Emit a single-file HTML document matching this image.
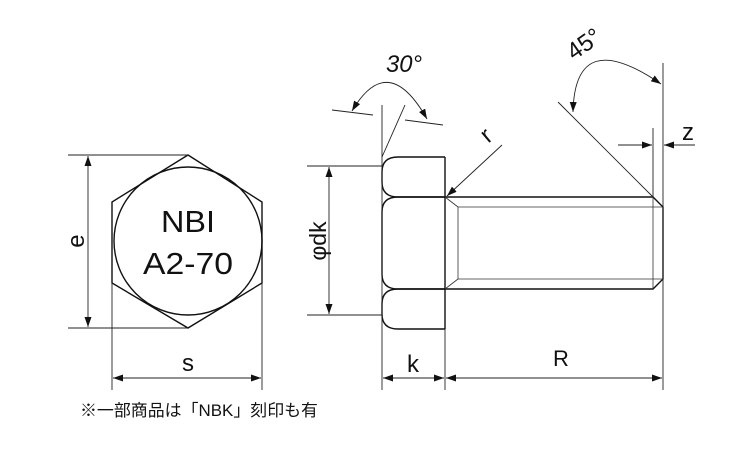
<!DOCTYPE html>
<html><head><style>
html,body{margin:0;padding:0;background:#fff;}
svg{display:block;}
text{font-family:"Liberation Sans","Noto Sans CJK JP",sans-serif;fill:#111;}
</style></head><body>
<svg width="750" height="450" viewBox="0 0 750 450" xmlns="http://www.w3.org/2000/svg">
<defs>
<marker id="a" viewBox="0 0 10 10" refX="10" refY="5" markerWidth="10" markerHeight="10" markerUnits="userSpaceOnUse" orient="auto-start-reverse">
<path d="M0,1.5 L10,5 L0,8.5 z" fill="#111"/></marker>
</defs>
<g fill="none" stroke="#111" stroke-width="1.4">
<polygon points="188,155 262,202 262,283 188,328 112,283 112,202"/>
<circle cx="188" cy="241" r="74"/>
</g>
<g fill="none" stroke="#222" stroke-width="0.9">
<line x1="68" y1="155" x2="188" y2="155"/>
<line x1="68" y1="328" x2="188" y2="328"/>
<line x1="88" y1="156" x2="88" y2="327" marker-start="url(#a)" marker-end="url(#a)"/>
<line x1="112" y1="283" x2="112" y2="390"/>
<line x1="262" y1="283" x2="262" y2="390"/>
<line x1="113" y1="378" x2="261" y2="378" marker-start="url(#a)" marker-end="url(#a)"/>
</g>
<text x="188" y="232" font-size="31" text-anchor="middle" textLength="54" lengthAdjust="spacingAndGlyphs">NBI</text>
<text x="188" y="274" font-size="31" text-anchor="middle" textLength="90" lengthAdjust="spacingAndGlyphs">A2-70</text>
<text x="76" y="241" font-size="24" text-anchor="middle" transform="rotate(-90 76 241)" dy="8">e</text>
<text x="188" y="371" font-size="24" text-anchor="middle">s</text>
<text x="80" y="416" font-size="16.5" textLength="238" lengthAdjust="spacingAndGlyphs">※一部商品は「NBK」刻印も有</text>

<g fill="none" stroke="#111" stroke-width="1.4">
<path d="M445,157 L398,157 Q382,157 382,172 L382,182 Q382,197 398,197 L445,197"/>
<path d="M445,197 L398,197 Q382,197 382,212 L382,274 Q382,289 398,289 L445,289"/>
<path d="M445,289 L398,289 Q382,289 382,304 L382,314 Q382,329 398,329 L445,329"/>
<line x1="445" y1="157" x2="445" y2="329"/>
<path d="M445,197 L653,197 L663,207 L663,279 L653,289 L445,289"/>
</g>
<g fill="none" stroke="#333" stroke-width="0.8">
<line x1="445" y1="197" x2="458" y2="207"/>
<line x1="445" y1="289" x2="458" y2="279"/>
<line x1="458" y1="207" x2="663" y2="207"/>
<line x1="458" y1="279" x2="663" y2="279"/>
<line x1="458" y1="207" x2="458" y2="279"/>
<line x1="653" y1="197" x2="653" y2="289"/>
</g>
<g fill="none" stroke="#222" stroke-width="0.9">
<line x1="382" y1="105" x2="382" y2="390"/>
<line x1="445" y1="329" x2="445" y2="390"/>
<line x1="663" y1="63" x2="663" y2="390"/>
<line x1="653" y1="128" x2="653" y2="197"/>
<line x1="307" y1="166" x2="382" y2="166"/>
<line x1="307" y1="315" x2="382" y2="315"/>
<line x1="329" y1="167" x2="329" y2="314" marker-start="url(#a)" marker-end="url(#a)"/>
<line x1="383" y1="378" x2="444" y2="378" marker-start="url(#a)" marker-end="url(#a)"/>
<line x1="446" y1="378" x2="662" y2="378" marker-start="url(#a)" marker-end="url(#a)"/>
<line x1="382" y1="157" x2="405" y2="105"/>
<line x1="332" y1="110" x2="373" y2="115"/>
<line x1="405" y1="120" x2="443" y2="125"/>
<path d="M352,111 Q388,50 427,119" marker-start="url(#a)" marker-end="url(#a)"/>
<line x1="558" y1="102" x2="653" y2="197"/>
<path d="M573,112 Q575,25 661,84" marker-start="url(#a)" marker-end="url(#a)"/>
<line x1="618" y1="145" x2="652" y2="145" marker-end="url(#a)"/>
<line x1="695" y1="145" x2="664" y2="145" marker-end="url(#a)"/>
<line x1="502" y1="145" x2="447" y2="196" marker-end="url(#a)"/>
</g>
<text x="318" y="241" font-size="23" text-anchor="middle" transform="rotate(-90 318 241)" dy="8">φdk</text>
<text x="413" y="372" font-size="24" text-anchor="middle">k</text>
<text x="561" y="366" font-size="22" text-anchor="middle">R</text>
<text x="688" y="140" font-size="24" text-anchor="middle">z</text>
<text x="486" y="143" font-size="24" text-anchor="middle" transform="rotate(-40 486 135)">r</text>
<text x="404" y="72" font-size="24" font-style="italic" text-anchor="middle" textLength="36" lengthAdjust="spacingAndGlyphs">30°</text>
<text x="584" y="52" font-size="24" text-anchor="middle" transform="rotate(-35 584 44)" textLength="36" lengthAdjust="spacingAndGlyphs">45°</text>
</svg>
</body></html>
